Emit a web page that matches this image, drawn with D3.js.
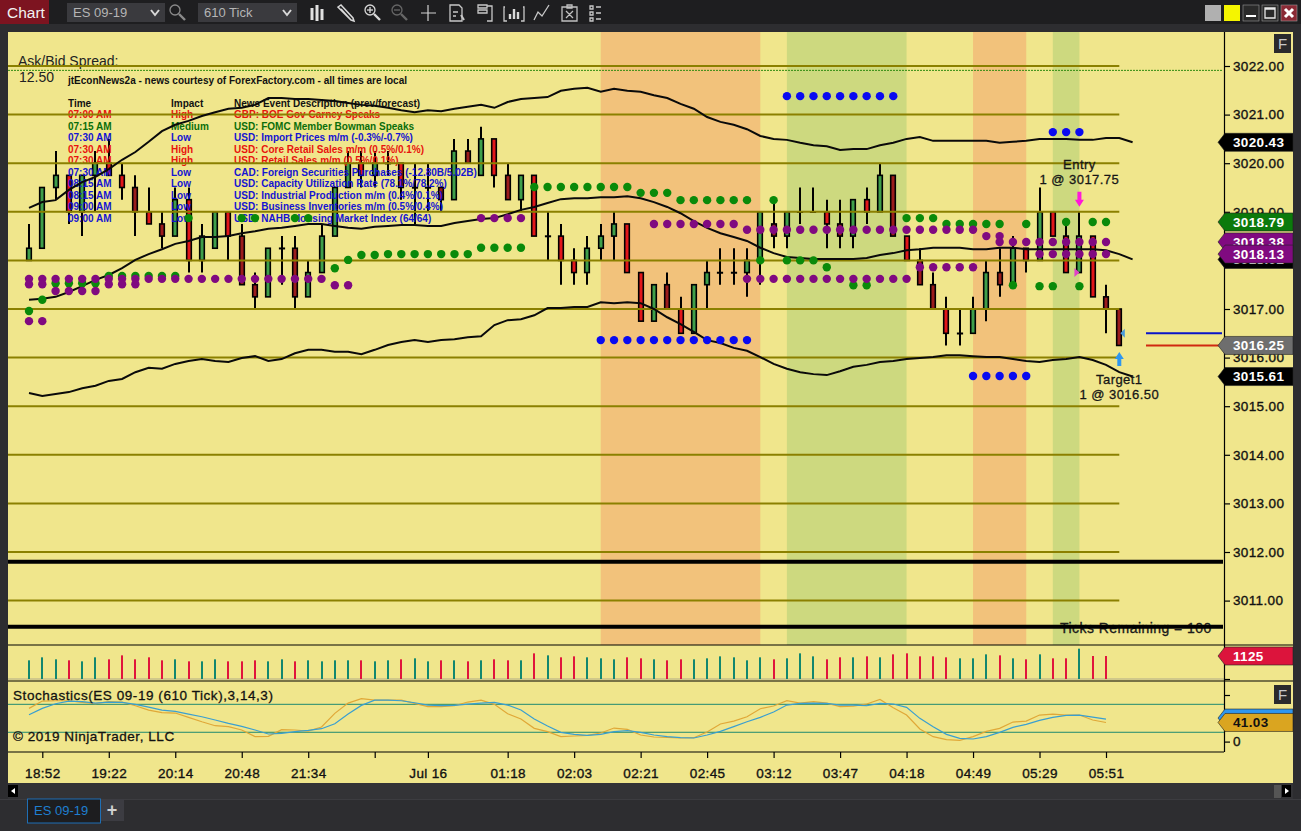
<!DOCTYPE html>
<html><head><meta charset="utf-8">
<script src="https://cdn.jsdelivr.net/npm/d3@7"></script>
<style>
html,body{margin:0;padding:0;background:#2d2d30;overflow:hidden}
svg{display:block}
text{font-family:"Liberation Sans",Arial,sans-serif}
.med{stroke:#111;stroke-width:.3px}
</style></head><body><svg id="c" width="1301" height="831"></svg>
<script>
// ---------- DATA ----------
const opens=[3018,3018.25,3019.5,3019.75,3019,3019.75,3020,3019.75,3019.5,3019,3018.75,3018.5,3019.25,3018,3018.25,3019,3018.5,3017.5,3017.25,3018.25,3018.25,3017.25,3017.75,3018.5,3019.5,3020,3019.75,3020,3020,3019.5,3019.5,3019.5,3019.25,3020.25,3019.75,3020.5,3019.75,3019.25,3019.75,3018.5,3018.5,3018,3017.75,3018.25,3018.5,3018.75,3017.75,3016.75,3017.5,3017,3016.5,3017.5,3017.75,3017.75,3017.75,3018,3018.75,3018.5,3019,3019,3019,3018.75,3018.5,3019.25,3019,3019.75,3018.5,3018,3017.5,3017,3016.5,3016.5,3017,3017.75,3017.5,3018.25,3018,3019,3018.5,3017.75,3018.5,3017.25,3017];
const closes=[3018.25,3019.5,3019.75,3019,3019.75,3020,3019.75,3019.5,3019,3018.75,3018.5,3019.25,3018,3018.5,3019,3018.5,3017.5,3017.25,3018.25,3018.25,3017.25,3017.75,3018.5,3019.5,3020,3019.75,3020,3020,3019.5,3019.5,3019.5,3019.25,3020.25,3020,3020.5,3019.75,3019.25,3019.75,3018.5,3018.5,3018,3017.75,3018.25,3018.5,3018.75,3017.75,3016.75,3017.5,3017,3016.5,3017.5,3017.75,3017.75,3017.75,3018,3019,3018.5,3019,3019,3019,3018.75,3018.5,3019.25,3019,3019.75,3018.5,3018,3017.5,3017,3016.5,3016.5,3017,3017.75,3017.5,3018.25,3018,3019,3018.5,3017.75,3018.5,3017.25,3017,3016.25];
const highs=[3018.75,3019.5,3020.25,3019.75,3019.75,3020.25,3020.5,3020,3019.75,3019.5,3019,3019.5,3019.5,3018.75,3019,3019,3018.75,3017.75,3018.25,3018.5,3018.5,3018,3018.75,3019.5,3020.25,3020.25,3020.25,3020.25,3020,3020,3020,3019.5,3020.5,3020.5,3020.75,3020.5,3020,3019.75,3019.75,3019,3018.75,3018.25,3018.5,3018.75,3019,3018.75,3017.75,3017.5,3017.75,3017.25,3017.5,3018,3018.25,3018.25,3018.25,3019,3019.25,3019,3019.5,3019.5,3019.25,3019.25,3019.25,3019.5,3020,3019.75,3018.5,3018.25,3017.75,3017.25,3017,3017.25,3018,3018.25,3018.5,3018.25,3019.5,3019,3018.75,3019,3018.5,3017.5,3017];
const lows=[3018,3018.25,3019.25,3018.75,3018.5,3019,3019.75,3019.25,3018.5,3018.75,3018.25,3018.5,3017.75,3017.75,3018.25,3018,3017.5,3017,3017.25,3017.5,3017,3017.25,3017.75,3018.5,3019.5,3019.5,3019.5,3019.75,3019.25,3018.75,3019,3019,3019.25,3020,3019.75,3019.5,3019.25,3019,3018.5,3018,3017.5,3017.5,3017.5,3018,3018,3017.75,3016.75,3016.75,3017,3016.5,3016.5,3017,3017.5,3017.5,3017.25,3017.5,3018.25,3018.25,3018.75,3019,3018.25,3018.25,3018.25,3018.75,3019,3018.5,3018,3017.5,3017,3016.25,3016.25,3016.5,3016.75,3017.25,3017.5,3017.75,3018,3018.5,3017.75,3017.75,3017.25,3016.5,3016.25];
const fadedBars=[8,10,16,17,20,31,33,36,48,56,61,65,67,68,73,81,82];
const bandUpper=[3019.08,3019.20,3019.24,3019.45,3019.61,3019.72,3019.88,3020.07,3020.23,3020.44,3020.66,3020.79,3020.87,3020.97,3021.05,3021.12,3021.14,3021.20,3021.34,3021.34,3021.32,3021.32,3021.30,3021.28,3021.24,3021.20,3021.18,3021.14,3021.09,3021.05,3021.09,3021.07,3021.12,3021.16,3021.20,3021.14,3021.26,3021.32,3021.34,3021.36,3021.49,3021.53,3021.55,3021.47,3021.53,3021.49,3021.47,3021.40,3021.34,3021.22,3021.12,3020.95,3020.85,3020.79,3020.70,3020.56,3020.50,3020.48,3020.42,3020.37,3020.35,3020.27,3020.29,3020.29,3020.37,3020.42,3020.50,3020.54,3020.46,3020.46,3020.46,3020.46,3020.46,3020.42,3020.44,3020.46,3020.50,3020.50,3020.50,3020.48,3020.48,3020.52,3020.52,3020.43];
const bandMiddle=[3017.19,3017.21,3017.25,3017.35,3017.47,3017.60,3017.70,3017.84,3018.01,3018.13,3018.23,3018.34,3018.40,3018.48,3018.48,3018.50,3018.56,3018.60,3018.65,3018.67,3018.71,3018.75,3018.75,3018.71,3018.67,3018.65,3018.69,3018.71,3018.73,3018.73,3018.71,3018.71,3018.77,3018.81,3018.85,3018.87,3018.95,3019.04,3019.10,3019.18,3019.26,3019.28,3019.28,3019.30,3019.30,3019.32,3019.28,3019.20,3019.10,3018.97,3018.81,3018.67,3018.56,3018.48,3018.40,3018.26,3018.15,3018.07,3018.05,3018.03,3018.03,3018.03,3018.03,3018.05,3018.11,3018.15,3018.21,3018.23,3018.26,3018.26,3018.26,3018.23,3018.23,3018.26,3018.26,3018.23,3018.23,3018.23,3018.23,3018.23,3018.23,3018.21,3018.13,3018.02];
const bandLower=[3015.27,3015.21,3015.25,3015.29,3015.37,3015.42,3015.52,3015.56,3015.70,3015.79,3015.77,3015.87,3015.93,3015.97,3015.93,3015.91,3015.99,3016.03,3015.93,3015.97,3016.09,3016.16,3016.16,3016.12,3016.12,3016.07,3016.16,3016.26,3016.32,3016.36,3016.32,3016.36,3016.38,3016.42,3016.44,3016.67,3016.77,3016.79,3016.87,3017.02,3017.02,3017.04,3017.04,3017.14,3017.12,3017.14,3017.12,3017.00,3016.83,3016.69,3016.53,3016.36,3016.30,3016.20,3016.14,3016.01,3015.87,3015.77,3015.70,3015.66,3015.64,3015.72,3015.81,3015.85,3015.91,3015.93,3015.97,3015.99,3016.01,3016.05,3016.05,3016.03,3016.01,3016.01,3015.97,3015.93,3015.91,3015.95,3015.97,3016.01,3015.95,3015.85,3015.70,3015.61];
// dot runs: first bar, last bar, price
const purpleDots=[[0,22,3017.62],[0,1,3017.51],[2,5,3017.37],[6,8,3017.51],[0,1,3016.75],[23,24,3017.49],[34,37,3018.87],[47,53,3018.75],[54,71,3018.63],[54,66,3017.62],[67,71,3017.86],[72,73,3018.5],[73,81,3018.38],[76,81,3018.13]];
const greenDots=[[0,0,3016.96],[1,1,3017.19],[2,5,3017.53],[6,11,3017.68],[12,12,3018.87],[16,17,3018.87],[20,21,3018.87],[23,23,3017.84],[24,24,3018.01],[25,26,3018.11],[27,33,3018.13],[34,37,3018.26],[38,45,3019.51],[46,48,3019.39],[49,54,3019.24],[55,55,3018.0],[56,56,3019.24],[57,59,3018.0],[60,60,3017.86],[62,63,3017.49],[66,68,3018.87],[69,73,3018.75],[74,74,3017.49],[75,75,3018.75],[76,77,3017.47],[78,78,3018.79],[79,79,3017.47],[80,81,3018.79]];
const blueDots=[[57,65,3021.38],[77,79,3020.64],[43,54,3016.36],[71,75,3015.62]];
const volumes=[913,1060,962,913,864,1060,962,1157,962,1060,913,962,864,864,962,864,864,913,864,962,864,913,864,913,913,913,864,913,962,1011,864,913,913,864,913,962,913,913,1255,1157,1060,1108,1060,1011,962,1060,1011,962,913,962,962,1011,1108,1060,913,1060,962,1011,1255,1108,962,1060,1060,1108,1060,1206,1255,1108,1108,1060,1011,1011,1206,1157,1011,962,1206,1011,1011,1483,1125,1125];
const stochD=[57.7,71.3,81.3,87,85.6,82.7,84.9,84.1,79.9,74.1,67.7,64.9,59.1,53.4,46.3,39.1,32.7,24.9,16.3,17.7,21.3,24.1,27.7,38.4,59.1,77.7,89.1,89.1,87.7,83.4,78.4,77,77.7,80.6,82.7,84.1,78.4,67.7,48.4,33.4,19.9,15.6,13.4,15.6,21.3,23.4,19.9,14.1,10.6,8.4,7.7,14.1,22,32,42.7,52,63.4,78.4,82,82.7,82,78.4,78.4,77,82,80.6,73.4,49.9,32,15.6,7,5.6,10.6,19.9,30.6,37,45.6,52,56.3,57,52.7,48.4];
const stochK=[71.3,87,87.7,87.7,84.1,81.3,85.6,84.9,77,67.7,62,61.3,52,42.7,34.1,32,24.9,10.6,11.3,25.6,24.9,22.7,31.3,60.6,82.7,92,89.1,89.1,89.1,82,74.9,74.9,77,84.9,89.1,79.9,59.9,48.4,28.4,21.3,10.6,12,13.4,18.4,29.1,26.3,14.1,9.9,9.1,7.7,8.4,20.6,37.7,44.1,53.4,70.6,76.3,87.7,82.7,85.6,82.7,74.9,76.3,80.6,90.6,72.7,57,27,10.6,4.1,2.7,10.6,22,28.4,42,44.1,57,59.1,57,57,46.3,41.03];
const timeTickBars=[1,6,11,16,21,26,30,36,41,46,51,56,61,66,71,76,81];
const timeTickLabels=["18:52","19:22","20:14","20:48","21:34","","Jul 16","01:18","02:03","02:21","02:45","03:12","03:47","04:18","04:49","05:29","05:51"];
const priceTicks=[3022,3021,3020,3019,3018,3017,3016,3015,3014,3013,3012,3011];
const sessionBands=[[43,55,"o"],[57,66,"g"],[71,75,"o"],[77,79,"g"]];
const newsTimes=["07:00 AM","07:15 AM","07:30 AM","07:30 AM","07:30 AM","07:30 AM","08:15 AM","08:15 AM","09:00 AM","09:00 AM"];
const newsImpact=["High","Medium","Low","High","High","Low","Low","Low","Low","Low"];
const newsEvents=["GBP: BOE Gov Carney Speaks","USD: FOMC Member Bowman Speaks","USD: Import Prices m/m (-0.3%/-0.7%)","USD: Core Retail Sales m/m (0.5%/0.1%)","USD: Retail Sales m/m (0.5%/0.1%)","CAD: Foreign Securities Purchases (-12.80B/5.02B)","USD: Capacity Utilization Rate (78.1%/78.2%)","USD: Industrial Production m/m (0.4%/0.1%)","USD: Business Inventories m/m (0.5%/0.4%)","USD: NAHB Housing Market Index (64/64)"];

// ---------- SCALES ----------
const svg=d3.select("#c");
const x=d3.scaleLinear().domain([0,82]).range([29,1119.3]);
const y=d3.scaleLinear().domain([3011,3022]).range([600.6,66]);
const vy=d3.scaleLinear().domain([0,1125]).range([679,656]);
const sy=d3.scaleLinear().domain([0,100]).range([741.6,695]);
const AX=1224, BG="#f0e68c";
const impactColor={High:"#e8140c",Medium:"#0a6e0a",Low:"#1414d2"};

// ---------- CHROME ----------
svg.append("rect").attr("width",1301).attr("height",831).attr("fill","#2d2d30");
svg.append("rect").attr("width",1301).attr("height",24).attr("fill","#1e1e20");
const chrome=svg.append("g");
chrome.append("rect").attr("x",0).attr("y",0).attr("width",49).attr("height",24).attr("fill","#7d1420");
chrome.append("text").attr("x",7).attr("y",18).attr("fill","#f2f2f2").attr("font-size",15.5).text("Chart");
[[67,165,"ES 09-19",73],[198,297,"610 Tick",204]].forEach(d=>{
  chrome.append("rect").attr("x",d[0]).attr("y",3).attr("width",d[1]-d[0]).attr("height",19).attr("fill","#3a3a3e");
  chrome.append("text").attr("x",d[3]).attr("y",17).attr("fill","#b5b5b5").attr("font-size",13).text(d[2]);
  chrome.append("path").attr("d",`M${d[1]-14} 10l4 5l4 -5`).attr("fill","none").attr("stroke","#d8d8d8").attr("stroke-width",2);
});
function ic(d,col,w){chrome.append("path").attr("d",d).attr("fill","none").attr("stroke",col||"#d2d2d2").attr("stroke-width",w||1.3);}
function lens(cx,col,sign){chrome.append("circle").attr("cx",cx-2).attr("cy",10).attr("r",5).attr("fill","none").attr("stroke",col).attr("stroke-width",1.3);
  ic(`M${cx+2} 14l6 6`,col,2.4); if(sign){ic(`M${cx-5} 10h6`,col); if(sign>1)ic(`M${cx-2} 7v6`,col);} }
lens(177,"#8a8a8a",0);
ic("M312 8v12M317 5v16M322 9v11","#e0e0e0",3);
ic("M338 7l3 -2l12 13l1 3l-3 -1z M341 9l10 11","#d8d8d8",1.5);
lens(372,"#d8d8d8",2); lens(399,"#666",1);
ic("M421 13h15M428 5v16","#d0d0d0",1.2);
ic("M450 5h9l3 3v13h-12z M453 12h5M453 16h3","#c8c8c8");ic("M461 15l3 5","#c8c8c8",2);
ic("M478 5h9v3h-9zM478 10h9v3h-9zM487 6h5v15h-5","#c8c8c8");
ic("M505 7h-1v14h3M523 7h1v14h-3","#c8c8c8");ic("M510 19v-5M514 19v-10M518 19v-7","#d8d8d8",2.4);
ic("M534 20l4 -8l4 4l7 -11","#c8c8c8");
ic("M562 7h15v14h-15zM567 5h5v3h-5zM566 11l7 7M573 11l-7 7","#c0c0c0");
ic("M590 6h3v3h-3zM590 12h3v3h-3zM590 18h3v3h-3zM596 7h5M596 13h5M596 19h5","#c8c8c8");
[[1205,"#b0b0b0"],[1224,"#f5f500"],[1243,"#2a2a2a"],[1262,"#2a2a2a"],[1281,"#8a2a35"]].forEach(d=>{
  chrome.append("rect").attr("x",d[0]).attr("y",5).attr("width",16).attr("height",16).attr("fill",d[1]).attr("stroke",d[0]>1240?"#999":"none").attr("stroke-width",.6);
});
ic("M1246 16h10","#fff",2);
ic("M1265 8h10v10h-10zM1265 9h10","#e8e8e8",1.3);
ic("M1285 9l8 8M1293 9l-8 8","#fff",3);

// ---------- PANEL ----------
svg.append("rect").attr("x",8).attr("y",32).attr("width",1285).attr("height",751).attr("fill",BG);
const bandColors={o:"#f2c27b",g:"#cdd97f"};
svg.append("g").selectAll("rect").data(sessionBands).join("rect")
  .attr("x",d=>x(d[0])).attr("y",32)
  .attr("width",d=>x(d[1])-x(d[0])).attr("height",613)
  .attr("fill",d=>bandColors[d[2]]);

// ---------- CANDLES ----------
const bars=d3.range(opens.length);
const cg=svg.append("g");
cg.selectAll("line").data(bars).join("line")
  .attr("x1",i=>Math.round(x(i))).attr("x2",i=>Math.round(x(i)))
  .attr("y1",i=>y(highs[i])).attr("y2",i=>y(lows[i]))
  .attr("stroke","#000").attr("stroke-width",2);
cg.selectAll("rect").data(bars).join("rect")
  .attr("x",i=>Math.round(x(i))-2.3).attr("width",4.6)
  .attr("y",i=>Math.min(y(opens[i]),y(closes[i])))
  .attr("height",i=>Math.max(Math.abs(y(opens[i])-y(closes[i])),.4))
  .attr("fill",i=>closes[i]>=opens[i]?"#3f9f4a":(fadedBars.includes(i)?"#9c1c1c":"#e2161a"))
  .attr("stroke","#000").attr("stroke-width",1.6);

// ---------- TEXT OVERLAYS ----------
const t=svg.append("g");
t.append("text").attr("x",18).attr("y",66).attr("font-size",14).attr("fill","#222").text("Ask/Bid Spread:");
t.append("text").attr("x",19).attr("y",82).attr("font-size",14).attr("fill","#222").text("12.50");
t.append("text").attr("x",68).attr("y",83.5).attr("font-size",10).attr("font-weight","bold").attr("fill","#111").attr("textLength",339).text("jtEconNews2a - news courtesy of ForexFactory.com - all times are local");
[[68,"Time"],[171,"Impact"],[234,"News Event Description (prev/forecast)"]].forEach(d=>
  t.append("text").attr("x",d[0]).attr("y",106.5).attr("font-size",10).attr("font-weight","bold").attr("fill","#111").text(d[1]));
const rowY=[117.5,129.5,140.5,152.5,163.5,175.5,186.5,198.5,209.5,221.5];
newsTimes.forEach((tm,i)=>{
  const c=impactColor[newsImpact[i]];
  [[68,tm],[171,newsImpact[i]],[234,newsEvents[i]]].forEach(d=>
    t.append("text").attr("x",d[0]).attr("y",rowY[i]).attr("font-size",10).attr("font-weight","bold").attr("fill",c).text(d[1]));
});
t.append("text").attr("class","med").attr("x",1060).attr("y",633).attr("font-size",14).attr("letter-spacing",".45").attr("fill","#222").text("Ticks Remaining = 100");

// ---------- GRID LINES ----------
const grid=svg.append("g");
grid.selectAll("line").data(priceTicks).join("line")
  .attr("x1",8).attr("x2",x(82)).attr("y1",d=>y(d)).attr("y2",d=>y(d))
  .attr("stroke","#8b8000").attr("stroke-width",2);
grid.append("line").attr("x1",8).attr("x2",AX-2).attr("y1",y(3021.91)).attr("y2",y(3021.91)).attr("stroke","#2f8a10").attr("stroke-width",1).attr("stroke-dasharray","2 1");
[3011.8,3010.46].forEach(p=>grid.append("line").attr("x1",8).attr("x2",AX-1).attr("y1",y(p)).attr("y2",y(p)).attr("stroke","#000").attr("stroke-width",4));

// ---------- BOLLINGER ----------
const line=d3.line().x((d,i)=>x(i)).y(d=>y(d));
[bandUpper,bandMiddle,bandLower].forEach(s=>svg.append("path").attr("d",line(s)).attr("fill","none").attr("stroke","#0a0a0a").attr("stroke-width",2));

// ---------- DOTS ----------
const expand=r=>r.flatMap(([a,b,p])=>d3.range(a,b+1).map(i=>[i,p]));
[[greenDots,"#0a8a0a"],[purpleDots,"#800a80"],[blueDots,"#0a0af0"]].forEach(([r,c])=>
  svg.append("g").selectAll("circle").data(expand(r)).join("circle")
   .attr("cx",d=>x(d[0])).attr("cy",d=>y(d[1])).attr("r",4.2).attr("fill",c));

// ---------- TRADE MARKS ----------
const marks=svg.append("g");
const ex=x(79), tx=x(82);
const et=y(3019)-5;
marks.append("path").attr("d",`M${ex-2} ${et-15}h4v8h2.5l-4.5 7l-4.5 -7h2.5z`).attr("fill","#ff19d8");
marks.append("path").attr("d",`M${ex-5} ${y(3017.75)-4.5}l5 4.5l-5 4.5z`).attr("fill","#e040c8");
const at=y(3016.25)+6.5;
marks.append("path").attr("d",`M${tx} ${at}l4.5 7h-2.5v7h-4v-7h-2.5z`).attr("fill","#2f96ee");
marks.append("path").attr("d",`M${tx+5.5} ${y(3016.5)-4.5}l-4.5 4.5l4.5 4.5z`).attr("fill","#4a9ad8");
[["Entry",ex,169],["1 @ 3017.75",ex,184],["Target1",tx,384],["1 @ 3016.50",tx,399]].forEach(d=>
  marks.append("text").attr("class","med").attr("x",d[1]).attr("y",d[2]).attr("text-anchor","middle").attr("font-size",13).attr("letter-spacing",".45").attr("fill","#1a1a1a").text(d[0]));
marks.append("line").attr("x1",1146).attr("x2",AX-2).attr("y1",y(3016.5)).attr("y2",y(3016.5)).attr("stroke","#0a14c8").attr("stroke-width",2);
marks.append("line").attr("x1",1146).attr("x2",AX-2).attr("y1",y(3016.25)).attr("y2",y(3016.25)).attr("stroke","#d02810").attr("stroke-width",2);

// ---------- VOLUME ----------
const lower=svg.append("g");
lower.append("rect").attr("x",8).attr("y",645).attr("width",1216).attr("height",107).attr("fill",BG);
lower.append("line").attr("x1",8).attr("x2",AX).attr("y1",679).attr("y2",679).attr("stroke","#b0aa88").attr("stroke-width",1.2);
lower.selectAll("rect.v").data(volumes).join("rect").attr("class","v")
  .attr("x",(d,i)=>Math.round(x(i))-1).attr("width",2)
  .attr("y",d=>vy(d)).attr("height",d=>vy(0)-vy(d))
  .attr("fill",(d,i)=>closes[i]>=opens[i]?"#12876f":"#e0163c");

// ---------- STOCHASTICS ----------
[80,20].forEach(v=>lower.append("line").attr("x1",8).attr("x2",AX).attr("y1",sy(v)).attr("y2",sy(v)).attr("stroke","#1f8a70").attr("stroke-width",1));
const sline=d3.line().x((d,i)=>x(i)).y(d=>sy(d));
lower.append("path").attr("d",sline(stochK)).attr("fill","none").attr("stroke","#e0a838").attr("stroke-width",1.2);
lower.append("path").attr("d",sline(stochD)).attr("fill","none").attr("stroke","#3a9fd0").attr("stroke-width",1.2);
lower.append("text").attr("class","med").attr("x",13).attr("y",699.5).attr("font-size",13.5).attr("fill","#111").attr("letter-spacing",".56").text("Stochastics(ES 09-19 (610 Tick),3,14,3)");
lower.append("text").attr("class","med").attr("x",13).attr("y",741).attr("font-size",13.5).attr("fill","#111").attr("letter-spacing",".55").text("© 2019 NinjaTrader, LLC");

// separators
[[645,AX+69],[681,AX+69],[752,AX]].forEach(d=>lower.append("line").attr("x1",8).attr("x2",d[1]).attr("y1",d[0]).attr("y2",d[0]).attr("stroke","#000").attr("stroke-width",1.2));

// ---------- AXES ----------
const yAxis=svg.append("g").attr("transform",`translate(${AX},0)`).call(d3.axisRight(y).tickValues(priceTicks).tickSize(6).tickPadding(3).tickFormat(d3.format(".2f")));
yAxis.select(".domain").attr("d","M0.5 32V752");
const sAxis=svg.append("g").attr("transform",`translate(${AX},0)`).call(d3.axisRight(sy).tickValues([0,100]).tickSize(6).tickPadding(3).tickFormat(d=>d===0?"0":""));
sAxis.select(".domain").remove();
const vAxis=svg.append("g").attr("transform",`translate(${AX},0)`).call(d3.axisRight(vy).tickValues([0]).tickSize(6).tickFormat(""));
vAxis.select(".domain").remove();
const xAxis=svg.append("g").attr("transform","translate(0,752)").call(d3.axisBottom(x).tickValues(timeTickBars).tickSize(6).tickPadding(10).tickFormat((d,i)=>timeTickLabels[i]));
xAxis.select(".domain").remove();
[yAxis,sAxis,vAxis,xAxis].forEach(a=>{a.selectAll("line").attr("stroke","#000").attr("stroke-width",1.2);a.selectAll(".domain").attr("stroke","#000").attr("stroke-width",1.2);
  a.selectAll("text").attr("font-family","Liberation Sans").attr("font-size",13.5).attr("letter-spacing",".35").attr("stroke","#111").attr("stroke-width",.35).attr("fill","#111");});

// ---------- PRICE FLAGS ----------
function flag(cy,txt,fill,col,h){h=h||18;
  const g=svg.append("g");
  g.append("path").attr("d",`M1218 ${cy}L1225 ${cy-h/2}H1293V${cy+h/2}H1225Z`).attr("fill",fill).attr("stroke","#222").attr("stroke-width",.6);
  g.append("text").attr("x",1233).attr("y",cy+4.8).attr("font-size",13.5).attr("letter-spacing",".35").attr("font-weight","bold").attr("fill",col).text(txt);
}
const fmt=d3.format(".2f");
const lastBand=s=>s[s.length-1];
flag(y(lastBand(bandUpper)),fmt(lastBand(bandUpper)),"#000","#fff");
flag(y(lastBand(bandMiddle)),fmt(lastBand(bandMiddle)),"#000","#fff");
flag(y(3018.79),"3018.79","#0b7a0b","#fff");
flag(y(3018.38),"3018.38","#800a80","#fff");
flag(y(3018.13),"3018.13","#800a80","#fff");
flag(y(3016.25),"3016.25","#6e6e6e","#fff");
flag(y(lastBand(bandLower)),fmt(lastBand(bandLower)),"#000","#fff");
flag(vy(1125),"1125","#dc143c","#fff");
flag(sy(48.4)-1,"","#2f96ee","#fff");
flag(sy(41.03),"41.03","#daa520","#111");

// ---------- F BUTTONS ----------
[[1274,34],[1274,685]].forEach(d=>{
  svg.append("rect").attr("x",d[0]).attr("y",d[1]).attr("width",17).attr("height",19).attr("fill","#2a2a2c");
  svg.append("text").attr("x",d[0]+8.5).attr("y",d[1]+15).attr("text-anchor","middle").attr("font-size",15).attr("fill","#c8c8c8").text("F");
});

// ---------- BOTTOM ----------
const bot=svg.append("g");
bot.append("rect").attr("x",0).attr("y",783).attr("width",1301).attr("height",48).attr("fill","#2d2d30");
bot.append("rect").attr("x",8).attr("y",783).attr("width",1285).attr("height",16).attr("fill","#333336");
bot.append("line").attr("x1",0).attr("x2",1301).attr("y1",799.5).attr("y2",799.5).attr("stroke","#3c3c40");
bot.append("rect").attr("x",8).attr("y",785).attr("width",10).attr("height",12).attr("fill","#000");
bot.append("path").attr("d","M15 788l-4 3l4 3z").attr("fill","#fff");
bot.append("rect").attr("x",1274).attr("y",785).attr("width",7).attr("height",13).attr("fill","#555");
bot.append("rect").attr("x",1282).attr("y",785).attr("width",9).attr("height",12).attr("fill","#000");
bot.append("path").attr("d","M1285 788l4 3l-4 3z").attr("fill","#fff");
bot.append("rect").attr("x",27.5).attr("y",799).attr("width",73).attr("height",24).attr("fill","#1d1d1f").attr("stroke","#1f6fb5");
bot.append("text").attr("x",34).attr("y",815).attr("font-size",13).attr("fill","#1f7fd0").text("ES 09-19");
bot.append("rect").attr("x",101).attr("y",799).attr("width",23).attr("height",22).attr("fill","#3c3c42");
bot.append("text").attr("x",112).attr("y",816).attr("text-anchor","middle").attr("font-size",18).attr("font-weight","bold").attr("fill","#d0d0d0").text("+");
</script></body></html>
